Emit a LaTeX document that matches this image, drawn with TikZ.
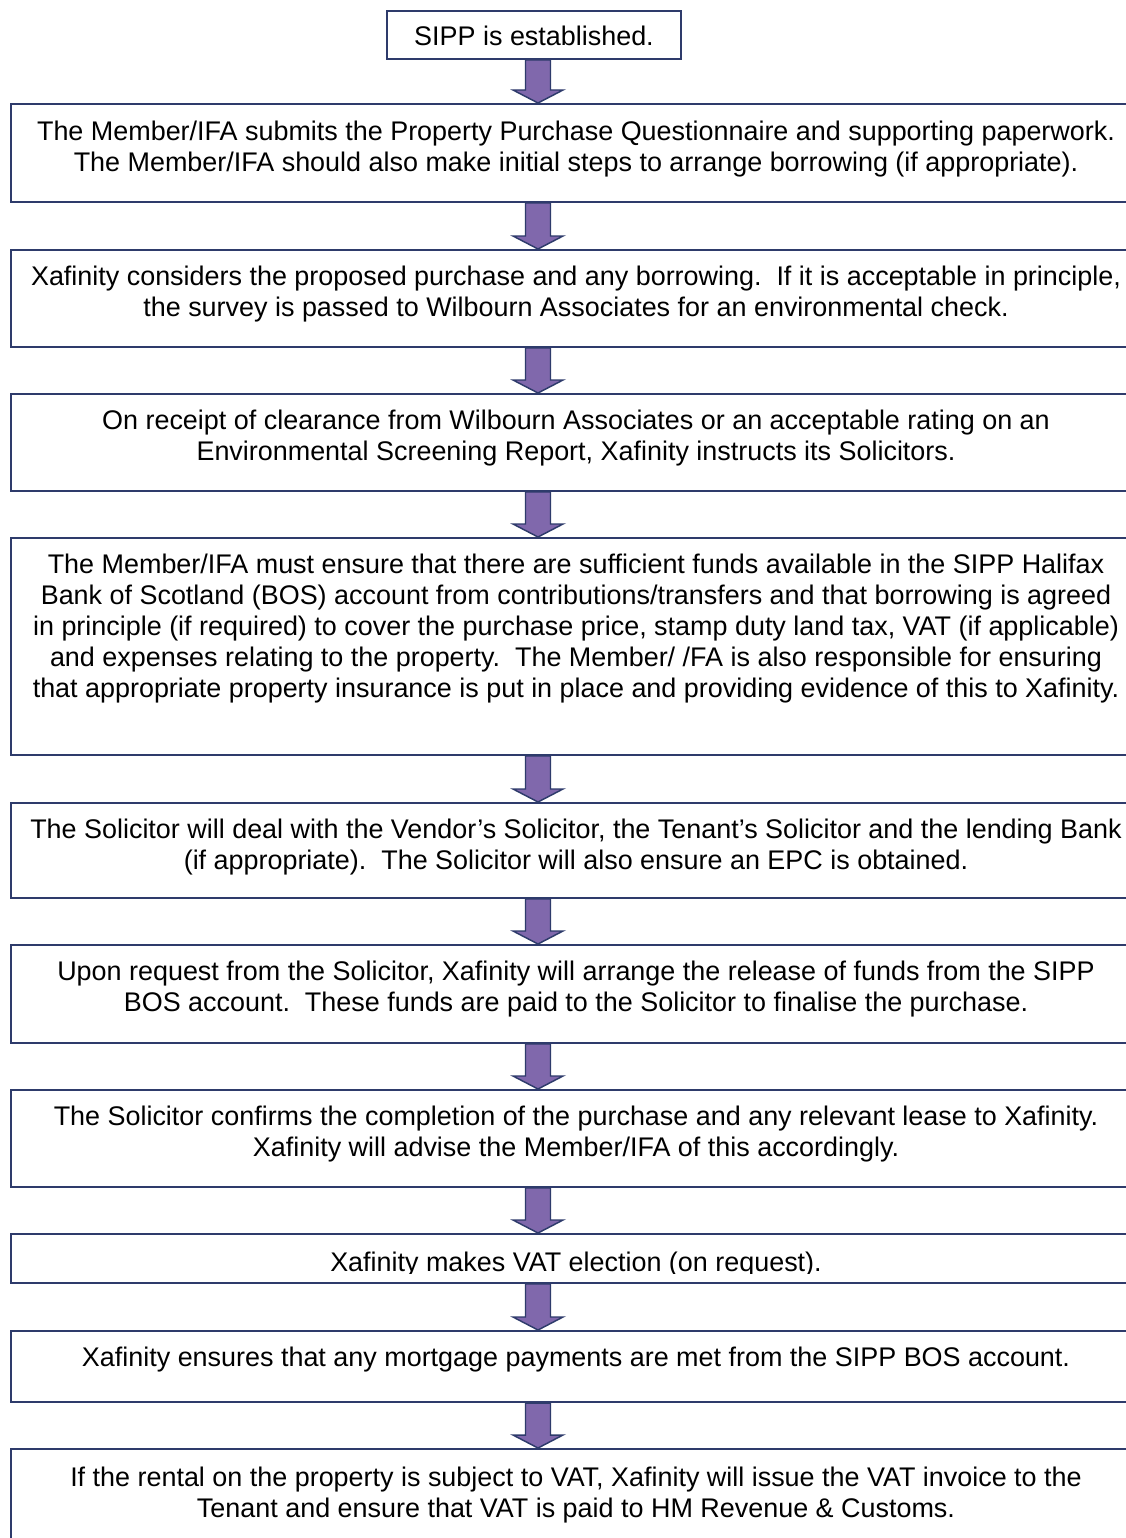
\documentclass[tikz,border=0pt]{standalone}
\usepackage{fontspec}
\setmainfont{Liberation Sans}
\usetikzlibrary{calc}
\definecolor{boxline}{HTML}{2E3B6B}
\definecolor{arrowfill}{HTML}{8068AC}
\newcommand{\stepfont}{\fontsize{20.2}{23.25}\selectfont}
\tikzstyle{stepbox}=[draw=boxline,line width=1.5pt,inner sep=0pt,anchor=north west,minimum width=847.5pt]
\tikzstyle{steptext}=[anchor=north,align=center,inner sep=0pt,font=\stepfont]
\tikzstyle{flowarrow}=[draw=boxline,line width=1.1pt,fill=arrowfill,line join=miter]

\begin{document}
\begin{tikzpicture}[x=0.75pt,y=-0.75pt]
	\useasboundingbox (0,0) rectangle (1126,1538);
	\clip (0,0) rectangle (1126,1538);
	\coordinate (axis) at (538,0);

	% the steps, top to bottom
	\node [stepbox,minimum width=220.5pt,minimum height=36pt] (s0) at (386,10) {};
	\node [steptext] (t0) at ($(s0.north)+(0,16)$) {SIPP is established.};

	\node [stepbox,minimum height=73.5pt] (s1) at (10,103) {};
	\node [steptext] (t1) at ($(s1.north)+(0,17.5)$) {The Member/IFA submits the Property Purchase Questionnaire and supporting paperwork.\\
		The Member/IFA should also make initial steps to arrange borrowing (if appropriate).};

	\node [stepbox,minimum height=72.75pt] (s2) at (10,249) {};
	\node [steptext] (t2) at ($(s2.north)+(0,17)$) {Xafinity considers the proposed purchase and any borrowing.\ \ If it is acceptable in principle,\\
		the survey is passed to Wilbourn Associates for an environmental check.};

	\node [stepbox,minimum height=72.75pt] (s3) at (10,393) {};
	\node [steptext] (t3) at ($(s3.north)+(0,17)$) {On receipt of clearance from Wilbourn Associates or an acceptable rating on an\\
		Environmental Screening Report, Xafinity instructs its Solicitors.};

	\node [stepbox,minimum height=162.75pt] (s4) at (10,537) {};
	\node [steptext] (t4) at ($(s4.north)+(0,17)$) {The Member/IFA must ensure that there are sufficient funds available in the SIPP Halifax\\
		Bank of Scotland (BOS) account from contributions/transfers and that borrowing is agreed\\
		in principle (if required) to cover the purchase price, stamp duty land tax, VAT (if applicable)\\
		and expenses relating to the property.\ \ The Member/ /FA is also responsible for ensuring\\
		that appropriate property insurance is put in place and providing evidence of this to Xafinity.};

	\node [stepbox,minimum height=71.25pt] (s5) at (10,802) {};
	\node [steptext] (t5) at ($(s5.north)+(0,17)$) {The Solicitor will deal with the Vendor’s Solicitor, the Tenant’s Solicitor and the lending Bank\\
		(if appropriate).\ \ The Solicitor will also ensure an EPC is obtained.};

	\node [stepbox,minimum height=73.5pt] (s6) at (10,944) {};
	\node [steptext] (t6) at ($(s6.north)+(0,17)$) {Upon request from the Solicitor, Xafinity will arrange the release of funds from the SIPP\\
		BOS account.\ \ These funds are paid to the Solicitor to finalise the purchase.};

	\node [stepbox,minimum height=72.75pt] (s7) at (10,1089) {};
	\node [steptext] (t7) at ($(s7.north)+(0,17)$) {The Solicitor confirms the completion of the purchase and any relevant lease to Xafinity.\\
		Xafinity will advise the Member/IFA of this accordingly.};

	\node [stepbox,minimum height=36.75pt] (s8) at (10,1233) {};
	\begin{scope}
		\clip (0,1234) rectangle (1126,1273);
		\node [steptext] (t8) at ($(s8.north)+(0,18.5)$) {Xafinity makes VAT election (on request).};
	\end{scope}

	\node [stepbox,minimum height=53.25pt] (s9) at (10,1330) {};
	\node [steptext] (t9) at ($(s9.north)+(0,17)$) {Xafinity ensures that any mortgage payments are met from the SIPP BOS account.};

	\node [stepbox,minimum height=72.75pt] (s10) at (10,1448) {};
	\node [steptext] (t10) at ($(s10.north)+(0,18.5)$) {If the rental on the property is subject to VAT, Xafinity will issue the VAT invoice to the\\
		Tenant and ensure that VAT is paid to HM Revenue \& Customs.};

	% block arrows between the steps
	\foreach \a/\b in {s0/s1,s1/s2,s2/s3,s3/s4,s4/s5,s5/s6,s6/s7,s7/s8,s8/s9,s9/s10} {
		\path (\a.south -| axis) coordinate (p) (\b.north -| axis) coordinate (q);
		\draw [flowarrow] ($(p)+(-12.5,0)$) -- ($(q)+(-12.5,-13)$) -- ($(q)+(-25,-13)$) -- (q)
			-- ($(q)+(25,-13)$) -- ($(q)+(12.5,-13)$) -- ($(p)+(12.5,0)$) -- cycle;
	}
\end{tikzpicture}
\end{document}
